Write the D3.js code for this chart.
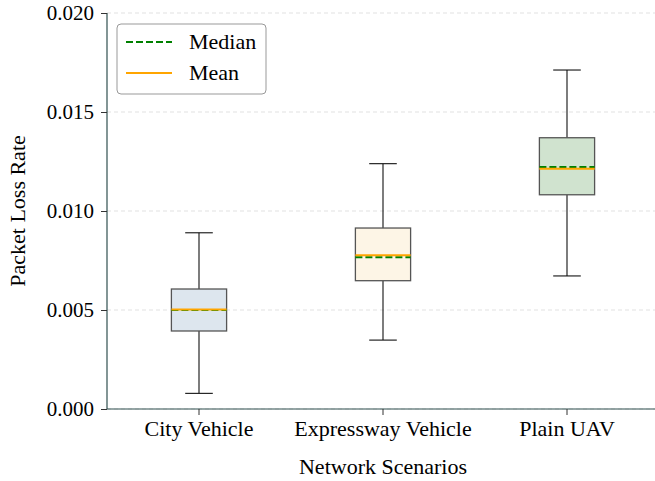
<!DOCTYPE html>
<html>
<head>
<meta charset="utf-8">
<script src="https://cdn.jsdelivr.net/npm/d3@7"></script>
<style>
  html, body { margin: 0; padding: 0; background: #fff; }
  svg { display: block; }
  svg text { font-family: "Liberation Serif", "Times New Roman", "DejaVu Serif", serif; }
</style>
</head>
<body>
<svg id="chart" width="655" height="481"></svg>
<script>
// Packet loss summary statistics per network scenario
const categories = ["City Vehicle", "Expressway Vehicle", "Plain UAV"];
const whiskerLow  = [0.00079, 0.00348, 0.00672];
const quartile1   = [0.00394, 0.00648, 0.01082];
const medians     = [0.00500, 0.00766, 0.01222];
const means       = [0.00502, 0.00776, 0.01214];
const quartile3   = [0.00606, 0.00914, 0.01370];
const whiskerHigh = [0.00890, 0.01239, 0.01712];
const yTicks      = [0.000, 0.005, 0.010, 0.015, 0.020];
const boxFills    = ["#dde6ee", "#fdf5e6", "#d0e3cf"];

const FONT = "'Liberation Serif', 'Times New Roman', 'DejaVu Serif', serif";
const svg = d3.select("#chart");
const margin = { left: 107, right: -4, top: 13, bottom: 72 };
const W = 655, H = 481;
const plotW = W - margin.left - margin.right;
const plotH = H - margin.top - margin.bottom;

const g = svg.append("g").attr("transform", `translate(${margin.left},${margin.top})`);

const x = d3.scaleBand().domain(categories).range([0, plotW]).paddingInner(0).paddingOuter(0);
const y = d3.scaleLinear().domain([0, 0.02]).range([plotH, 0]);

// horizontal dashed grid
g.append("g").selectAll("line").data(yTicks).join("line")
  .attr("x1", 0).attr("x2", plotW)
  .attr("y1", d => y(d)).attr("y2", d => y(d))
  .attr("stroke", "#d9d9d9").attr("stroke-width", 0.8)
  .attr("stroke-dasharray", "4,3");

const data = categories.map((c, i) => ({
  c, lo: whiskerLow[i], q1: quartile1[i], med: medians[i], mean: means[i],
  q3: quartile3[i], hi: whiskerHigh[i], fill: boxFills[i]
}));

const boxW = x.bandwidth() * 0.3;
const capW = boxW * 0.5;
const cx = d => x(d.c) + x.bandwidth() / 2;

const boxes = g.append("g").selectAll("g").data(data).join("g");

// whiskers
boxes.append("line")
  .attr("x1", cx).attr("x2", cx)
  .attr("y1", d => y(d.q3)).attr("y2", d => y(d.hi))
  .attr("stroke", "#111").attr("stroke-width", 1.1);
boxes.append("line")
  .attr("x1", cx).attr("x2", cx)
  .attr("y1", d => y(d.q1)).attr("y2", d => y(d.lo))
  .attr("stroke", "#111").attr("stroke-width", 1.1);
// caps
boxes.append("line")
  .attr("x1", d => cx(d) - capW / 2).attr("x2", d => cx(d) + capW / 2)
  .attr("y1", d => y(d.hi)).attr("y2", d => y(d.hi))
  .attr("stroke", "#111").attr("stroke-width", 1.1);
boxes.append("line")
  .attr("x1", d => cx(d) - capW / 2).attr("x2", d => cx(d) + capW / 2)
  .attr("y1", d => y(d.lo)).attr("y2", d => y(d.lo))
  .attr("stroke", "#111").attr("stroke-width", 1.1);
// box
boxes.append("rect")
  .attr("x", d => cx(d) - boxW / 2).attr("width", boxW)
  .attr("y", d => y(d.q3)).attr("height", d => y(d.q1) - y(d.q3))
  .attr("fill", d => d.fill)
  .attr("stroke", "#555").attr("stroke-width", 1.3);
// median (dashed green)
boxes.append("line")
  .attr("x1", d => cx(d) - boxW / 2).attr("x2", d => cx(d) + boxW / 2)
  .attr("y1", d => y(d.med)).attr("y2", d => y(d.med))
  .attr("stroke", "#008000").attr("stroke-width", 2)
  .attr("stroke-dasharray", "7,3");
// mean (solid orange)
boxes.append("line")
  .attr("x1", d => cx(d) - boxW / 2).attr("x2", d => cx(d) + boxW / 2)
  .attr("y1", d => y(d.mean)).attr("y2", d => y(d.mean))
  .attr("stroke", "#ffa500").attr("stroke-width", 2);

// axes
const spineColor = "#2f4f4f";
const yAxis = g.append("g")
  .call(d3.axisLeft(y).tickValues(yTicks).tickFormat(d3.format(".3f")).tickSize(6).tickPadding(7));
const xAxis = g.append("g").attr("transform", `translate(0,${plotH})`)
  .call(d3.axisBottom(x).tickSize(6).tickPadding(5));
[yAxis, xAxis].forEach(a => {
  a.attr("font-family", FONT);
  a.select(".domain").attr("stroke", spineColor).attr("stroke-width", 1.2);
  a.selectAll(".tick line").attr("stroke", "#333");
  a.selectAll(".tick text").attr("fill", "#000").attr("font-family", FONT);
});
yAxis.selectAll(".tick text").attr("font-size", 21);
xAxis.selectAll(".tick text").attr("font-size", 22);
yAxis.select(".domain").attr("d", `M0,${plotH}V0`);
xAxis.select(".domain").attr("d", `M0,0H${plotW}`);

// axis titles
svg.append("text")
  .attr("x", margin.left + (x(categories[1]) + x.bandwidth() / 2))
  .attr("y", 474)
  .attr("text-anchor", "middle")
  .attr("font-family", FONT).attr("font-size", 22)
  .text("Network Scenarios");
svg.append("text")
  .attr("transform", `translate(25,${margin.top + plotH / 2}) rotate(-90)`)
  .attr("text-anchor", "middle")
  .attr("font-family", FONT).attr("font-size", 22)
  .text("Packet Loss Rate");

// legend
const lg = svg.append("g").attr("transform", "translate(117,24)");
lg.append("rect").attr("width", 149).attr("height", 70).attr("rx", 4)
  .attr("fill", "#fff").attr("fill-opacity", 0.8)
  .attr("stroke", "#999").attr("stroke-width", 1);
const legendItems = [
  { label: "Median", color: "#008000", dash: "7,3" },
  { label: "Mean", color: "#ffa500", dash: null }
];
legendItems.forEach((it, i) => {
  const yy = 18 + i * 31;
  lg.append("line").attr("x1", 9).attr("x2", 55).attr("y1", yy).attr("y2", yy)
    .attr("stroke", it.color).attr("stroke-width", 2)
    .attr("stroke-dasharray", it.dash);
  lg.append("text").attr("x", 72).attr("y", yy + 7)
    .attr("font-family", FONT).attr("font-size", 22).text(it.label);
});
</script>
</body>
</html>
